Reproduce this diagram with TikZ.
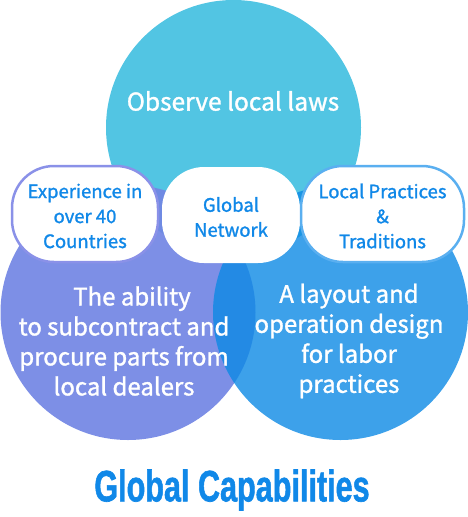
\documentclass[tikz,border=0pt]{standalone}
\usepackage{fontspec}
\setmainfont{Noto Sans CJK JP}[BoldFont={Noto Sans CJK JP}, BoldFeatures={FakeBold=1.3}]
\newfontfamily\titlefont{Liberation Sans}[BoldFeatures={FakeBold=1.5}]
\begin{document}
\begin{tikzpicture}[x=1pt,y=-1pt]
\definecolor{topc}{RGB}{82,197,227}
\definecolor{leftc}{RGB}{114,134,228}
\definecolor{rightc}{RGB}{12,137,229}
\definecolor{txtblue}{RGB}{16,136,232}
\definecolor{lborder}{RGB}{138,145,232}
\definecolor{rborder}{RGB}{90,175,240}
\tikzset{
  bigcircle/.style={circle, minimum size=255pt, inner sep=0pt, draw=none},
  pill/.style={rounded corners=42pt, fill=white, inner sep=0pt},
  pilltext/.style={text=txtblue, align=center, font=\bfseries\fontsize{18.5}{25}\selectfont},
  circletext/.style={text=white, align=center, font=\bfseries\fontsize{24}{30}\selectfont},
}
\useasboundingbox (0,0) rectangle (468,517);
\node[bigcircle, fill=topc] (top) at (233.5,127.5) {};
\node[bigcircle, fill=leftc, fill opacity=0.92] (left) at (128,312.5) {};
\node[bigcircle, fill=rightc, fill opacity=0.8] (right) at (340.5,312.5) {};
\node[pill, draw=lborder, line width=2.5pt, minimum width=146pt, minimum height=96pt] (lpill) at (85,214) {};
\node[pill, minimum width=138pt, minimum height=96pt] (mpill) at (231,215) {};
\node[pill, draw=rborder, line width=2.5pt, minimum width=163pt, minimum height=96pt] (rpill) at (382.5,214) {};
\node[circletext, font=\bfseries\fontsize{24.5}{30}\selectfont] (toptext) at (233,101) {Observe local laws};
\node[pilltext] (ltext) at (85,216) {Experience in\\over 40\\Countries};
\node[pilltext] (mtext) at (231,217) {Global\\Network};
\node[pilltext] (rtext) at (382.5,216) {Local Practices\\\&\\Traditions};
\node[circletext] (lbody) at (124,341) {\hspace*{16pt}The ability\\to subcontract and\\procure parts from\\local dealers};
\node[circletext] (rbody) at (349,341) {A layout and\\operation design\\for labor\\practices};
\node[text=txtblue] (title) at (232,490) {\scalebox{0.695}[1]{\titlefont\bfseries\fontsize{44}{44}\selectfont Global Capabilities}};
\end{tikzpicture}
\end{document}
